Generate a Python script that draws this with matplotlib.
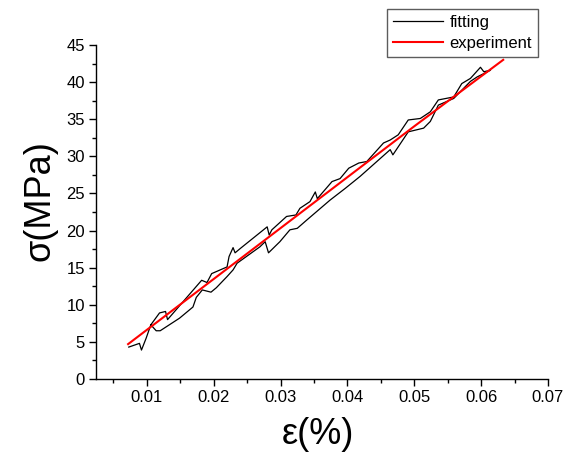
import matplotlib
matplotlib.use("Agg")
import matplotlib.pyplot as plt
from matplotlib.ticker import MultipleLocator

plt.rcParams['font.family'] = ['Liberation Sans', 'DejaVu Sans']

# loading branch (lower part of the loop)
strain_low = [0.0073, 0.0089, 0.0092, 0.0099, 0.0106, 0.0114, 0.0120, 0.0149,
              0.0169, 0.0174, 0.0183, 0.0196, 0.0204, 0.0220, 0.0229, 0.0235,
              0.0269, 0.0277, 0.0282, 0.0299, 0.0314, 0.0325, 0.0339, 0.0374,
              0.0397, 0.0419, 0.0464, 0.0468, 0.0491, 0.0514, 0.0524, 0.0536,
              0.0559, 0.0584, 0.0594, 0.0614]
stress_low = [4.3, 4.8, 3.9, 5.5, 7.3, 6.5, 6.5, 8.2,
              9.7, 11.0, 12.0, 11.7, 12.3, 13.8, 14.7, 15.6,
              17.8, 18.5, 17.0, 18.5, 20.1, 20.3, 21.4, 24.1,
              25.7, 27.3, 30.9, 30.2, 33.3, 33.8, 34.7, 36.9,
              37.8, 40.1, 40.7, 41.6]

# unloading branch (upper part of the loop)
strain_up = [0.0614, 0.0604, 0.0599, 0.0584, 0.0571, 0.0559, 0.0536, 0.0524,
             0.0509, 0.0491, 0.0476, 0.0464, 0.0454, 0.0429, 0.0417, 0.0402,
             0.0389, 0.0377, 0.0355, 0.0352, 0.0344, 0.0329, 0.0323, 0.0309,
             0.0287, 0.0283, 0.0280, 0.0240, 0.0232, 0.0229, 0.0223, 0.0220,
             0.0197, 0.0190, 0.0182, 0.0131, 0.0128, 0.0119, 0.0106]
stress_up = [41.6, 41.4, 42.0, 40.5, 39.8, 38.0, 37.6, 36.0,
             35.1, 34.9, 32.9, 32.2, 31.8, 29.3, 29.1, 28.4,
             27.0, 26.6, 24.3, 25.2, 23.9, 23.0, 22.1, 21.9,
             20.1, 19.4, 20.5, 17.6, 17.0, 17.7, 16.5, 15.1,
             14.2, 13.0, 13.3, 8.0, 9.1, 8.9, 7.3]

strain_exp = [0.0072, 0.02, 0.035, 0.05, 0.0633]
stress_exp = [4.7, 13.47, 23.76, 34.05, 43.0]

fig = plt.figure(figsize=(5.66, 4.53), dpi=100)
ax = fig.add_axes([96 / 566, 1 - 379 / 453, 452 / 566, 334 / 453])

ax.plot(strain_low + strain_up, stress_low + stress_up,
        color='black', lw=0.9, label='fitting')
ax.plot(strain_exp, stress_exp, color='red', lw=1.5, label='experiment')

ax.set_xlim(0.0024, 0.07)
ax.set_ylim(0, 45)
ax.xaxis.set_major_locator(MultipleLocator(0.01))
ax.xaxis.set_minor_locator(MultipleLocator(0.005))
ax.yaxis.set_major_locator(MultipleLocator(5))
ax.yaxis.set_minor_locator(MultipleLocator(2.5))
ax.set_xticks([0.01, 0.02, 0.03, 0.04, 0.05, 0.06, 0.07])
ax.set_xticklabels(['0.01', '0.02', '0.03', '0.04', '0.05', '0.06', '0.07'])

for side in ['top', 'right']:
    ax.spines[side].set_visible(False)
for side in ['left', 'bottom']:
    ax.spines[side].set_linewidth(1.0)
ax.tick_params(which='major', direction='out', length=5, width=1,
               labelsize=12, colors='black', pad=3)
ax.tick_params(which='minor', direction='out', length=3, width=1)

ax.set_xlabel('ε(%)', fontsize=26)
ax.set_ylabel('σ(MPa)', fontsize=26)
ax.xaxis.set_label_coords((318 - 96) / 452, -(435 - 379) / 334)
ax.yaxis.set_label_coords(-(96 - 40) / 452, (379 - 201) / 334)
ax.xaxis.label.set_verticalalignment('center')
ax.yaxis.label.set_verticalalignment('center')

leg = fig.legend(loc='upper right', bbox_to_anchor=(538 / 566, 1 - 9 / 453),
                 fontsize=12, frameon=True, fancybox=False, borderaxespad=0,
                 handlelength=3.0, handletextpad=0.4, borderpad=0.35,
                 labelspacing=0.35)
leg.get_frame().set_edgecolor('#333333')
leg.get_frame().set_linewidth(1.0)

fig.savefig('out.png', dpi=100)
